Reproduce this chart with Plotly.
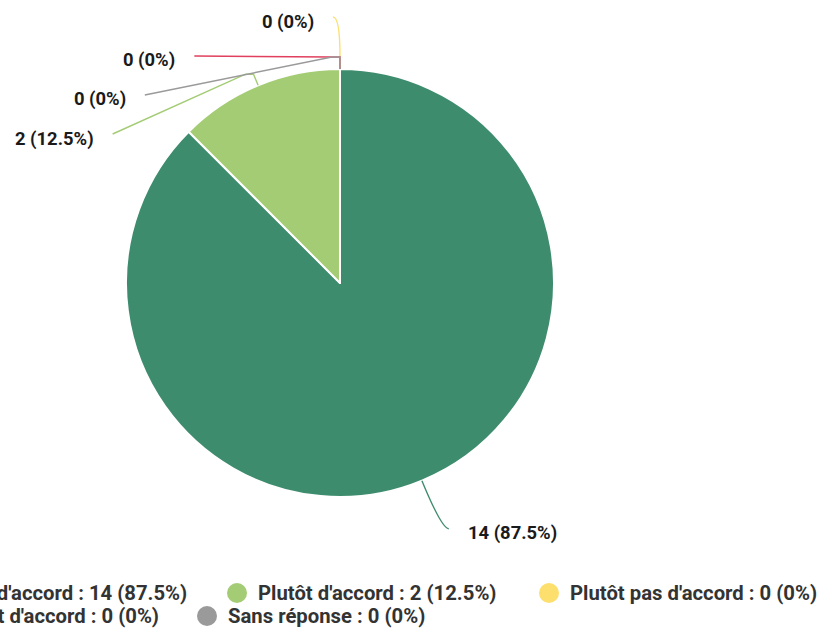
import math
import plotly.graph_objects as go

# ---------------- data ----------------
categories = ["Tout à fait d'accord", "Plutôt d'accord", "Plutôt pas d'accord",
              "Pas du tout d'accord", "Sans réponse"]
values = [14, 2, 0, 0, 0]
colors = ["#3e8c6e", "#a3cc74", "#fddf6e", "#e0405e", "#9a9a9a"]

# ---------------- layout constants (screen pixels) ----------------
PAGE_OFF = 0                # body margin removed below via post_script
W, H = 821 - PAGE_OFF, 631 - PAGE_OFF
CX, CY, R = 340, 283, 214
LEN1, LEN2 = 52, 7          # label line segment lengths
LABEL_GAP = 39              # min vertical distance between labels
TOP_LIMIT = 17              # top-most label line end
TEXT_OFF = 18               # distance from line end to label text
TEXT_DY = 4.5               # vertical offset of label text from line end
FONT = "Roboto"
LABEL_SIZE = 18.4
LEGEND_SIZE = 20.3


def px(x):
    return (x - PAGE_OFF) / W


def py(y):
    return 1 - (y - PAGE_OFF) / H


def fmt(p):
    s = f"{p:.1f}"
    return s.rstrip("0").rstrip(".") if "." in s else s


total = sum(values)
pcts = [v / total * 100 for v in values]
texts = [f"{v} ({fmt(p)}%)" for v, p in zip(values, pcts)]

# ---------------- pie ----------------
fig = go.Figure()
fig.add_trace(go.Pie(
    labels=categories, values=values, sort=False, direction="clockwise", rotation=0,
    marker=dict(colors=colors, line=dict(color="white", width=2)),
    textinfo="none", showlegend=False, hoverinfo="label+value+percent",
    domain=dict(x=[px(CX - R), px(CX + R)], y=[py(CY + R), py(CY - R)]),
))

# ---------------- outside labels with leader lines ----------------
info = []
acc = 0.0
for i, v in enumerate(values):
    a0 = acc / total * 2 * math.pi
    acc += v
    a1 = acc / total * 2 * math.pi
    mid = (a0 + a1) / 2
    sx, sy = math.sin(mid), -math.cos(mid)
    side = 1 if sx > 1e-9 else -1
    p1 = (CX + R * sx, CY + R * sy)
    p2 = (CX + (R + LEN1) * sx, CY + (R + LEN1) * sy)
    info.append(dict(i=i, dir=(sx, sy), side=side, p1=p1, p2=p2, y=p2[1], adj=False))

for side in (-1, 1):
    items = sorted([d for d in info if d["side"] == side], key=lambda d: (d["y"], d["i"]))
    prev = None
    moved = False
    for d in items:
        ny = d["y"]
        if prev is None:
            ny = max(ny, TOP_LIMIT)
        else:
            ny = max(ny, prev + LABEL_GAP)
        if abs(ny - d["y"]) > 0.5:
            moved = True
        d["y"] = ny
        prev = ny
    if moved and items:
        rB = max(abs(d["y"] - CY) for d in items)
        for d in items:
            dy = abs(d["y"] - CY)
            dx = math.sqrt(max(0.0, 1 - dy * dy / (rB * rB))) * (R + LEN1)
            d["x"] = CX + side * (dx + LEN2)
            d["adj"] = True
    else:
        for d in items:
            d["x"] = d["p2"][0] + side * LEN2


def P(pt):
    return f"{px(pt[0]):.6f},{py(pt[1]):.6f}"


shapes = []
annotations = []
for d in info:
    p1, p3 = d["p1"], (d["x"], d["y"])
    side = d["side"]
    if not d["adj"]:
        path = f"M{P(p1)} Q{P(d['p2'])} {P(p3)}"
    else:
        sx, sy = d["dir"]
        p1s = (p1[0] + 12 * sx, p1[1] + 12 * sy)
        if p3[1] < p1s[1] - 5:
            path = f"M{P(p1)} L{P(p1s)} Q{P((p1s[0], p3[1]))} {P(p3)}"
        else:
            path = f"M{P(p1)} L{P(p1s)} L{P((p1s[0] + side * 8, p1s[1]))} L{P(p3)}"
    shapes.append(dict(type="path", xref="paper", yref="paper", path=path,
                       line=dict(color=colors[d["i"]], width=1.4)))
    annotations.append(dict(
        x=px(p3[0] + side * TEXT_OFF), y=py(p3[1] + TEXT_DY), xref="paper", yref="paper",
        text=f"<b>{texts[d['i']]}</b>", showarrow=False, borderpad=0,
        xanchor="left" if side > 0 else "right", yanchor="middle",
        font=dict(family=FONT, size=LABEL_SIZE, color="#1a1a1a")))

# ---------------- custom legend (circle markers) ----------------
legend_rows_y = [593, 616]
legend_pos = [  # (row, circle centre x, text anchor)
    (0, -130, ("right", 188)),
    (0, 237, ("left", None)),
    (0, 549, ("left", None)),
    (1, -130, ("right", 160)),
    (1, 207, ("left", None)),
]
for i, (row, cxl, (anc, tx)) in enumerate(legend_pos):
    cyl = legend_rows_y[row]
    shapes.append(dict(type="circle", xref="paper", yref="paper",
                       x0=px(cxl - 10), x1=px(cxl + 10), y0=py(cyl + 10), y1=py(cyl - 10),
                       fillcolor=colors[i], line=dict(width=0)))
    label = f"{categories[i]} : {values[i]} ({fmt(pcts[i])}%)"
    tx = cxl + 20 if tx is None else tx
    annotations.append(dict(
        x=px(tx), y=py(cyl), xref="paper", yref="paper", text=f"<b>{label}</b>",
        showarrow=False, borderpad=0, xanchor=anc, yanchor="middle",
        font=dict(family=FONT, size=LEGEND_SIZE, color="#333333")))

fig.update_layout(
    width=W, height=H, margin=dict(l=0, r=0, t=0, b=0, autoexpand=False),
    paper_bgcolor="white", plot_bgcolor="white",
    shapes=shapes, annotations=annotations, showlegend=False,
)

fig.write_html("out.html", config={"displayModeBar": False},
               post_script="document.body.style.margin='0';document.body.style.overflow='hidden';")
